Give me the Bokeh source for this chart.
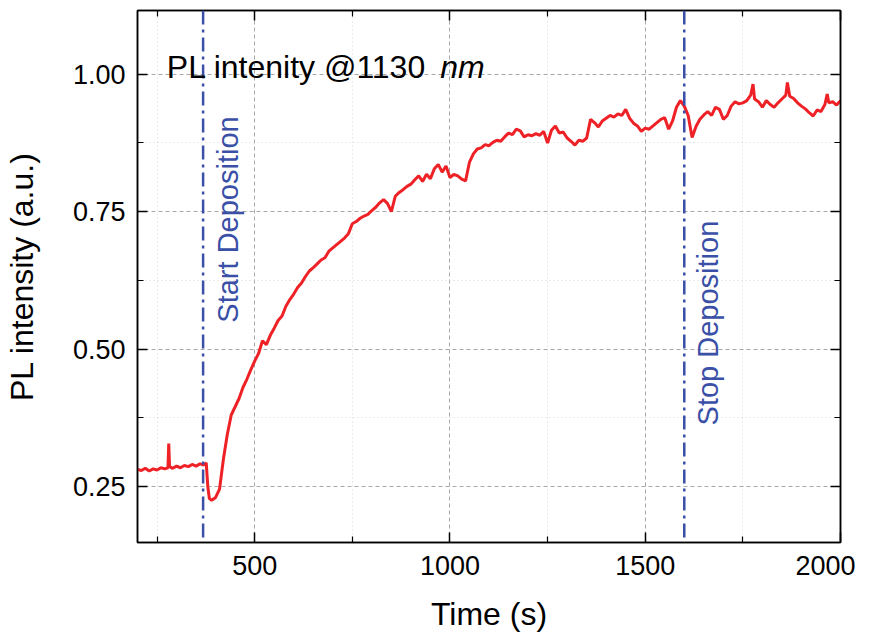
import math
from bokeh.plotting import figure
from bokeh.models import FixedTicker, LinearAxis, Label, Span, Range1d
from bokeh.embed import file_html
from bokeh.resources import INLINE

# ---- data ----
time_s = [200, 210, 220, 230, 240, 250, 260, 270, 278, 280, 282, 290, 300, 310, 320, 330, 340, 350, 360, 370,
          376, 380, 384, 390, 400, 410, 420, 430, 440, 450, 460, 470, 480, 490, 500, 510, 520, 530, 540, 550,
          560, 570, 580, 590, 600, 610, 620, 630, 640, 650, 660, 670, 680, 690, 700, 710, 720, 730, 740, 750,
          760, 770, 780, 790, 800, 810, 820, 830, 840, 850, 860, 870, 880, 890, 900, 910, 920, 930, 940, 950,
          960, 970, 980, 990, 1000, 1010, 1020, 1030, 1040, 1050, 1060, 1070, 1080, 1090, 1100, 1110, 1120,
          1130, 1140, 1150, 1160, 1170, 1180, 1190, 1200, 1210, 1220, 1230, 1240, 1250, 1260, 1270, 1280,
          1290, 1300, 1310, 1320, 1330, 1340, 1350, 1360, 1370, 1380, 1390, 1400, 1410, 1420, 1430, 1440,
          1450, 1460, 1470, 1480, 1490, 1500, 1510, 1520, 1530, 1540, 1550, 1560, 1570, 1580, 1590, 1600,
          1610, 1620, 1630, 1640, 1650, 1660, 1670, 1680, 1690, 1700, 1710, 1720, 1730, 1740, 1750, 1760,
          1770, 1776, 1780, 1790, 1800, 1810, 1820, 1830, 1840, 1850, 1860, 1864, 1870, 1880, 1890, 1900,
          1910, 1920, 1930, 1940, 1950, 1960, 1966, 1970, 1980, 1990, 2000]
pl_intensity = [0.281, 0.279, 0.283, 0.278, 0.282, 0.280, 0.284, 0.282, 0.284, 0.328, 0.286, 0.283, 0.287,
                0.284, 0.288, 0.286, 0.290, 0.287, 0.291, 0.289, 0.293, 0.250, 0.228, 0.225, 0.230, 0.245,
                0.300, 0.345, 0.380, 0.395, 0.410, 0.430, 0.445, 0.462, 0.478, 0.492, 0.515, 0.508, 0.525,
                0.538, 0.552, 0.560, 0.578, 0.590, 0.600, 0.612, 0.620, 0.632, 0.642, 0.648, 0.655, 0.662,
                0.666, 0.678, 0.684, 0.690, 0.696, 0.702, 0.710, 0.728, 0.732, 0.738, 0.742, 0.745, 0.752,
                0.758, 0.766, 0.772, 0.765, 0.750, 0.778, 0.785, 0.790, 0.796, 0.800, 0.808, 0.815, 0.805,
                0.818, 0.810, 0.828, 0.836, 0.822, 0.833, 0.812, 0.818, 0.815, 0.809, 0.806, 0.840, 0.855,
                0.864, 0.866, 0.872, 0.870, 0.876, 0.880, 0.878, 0.886, 0.893, 0.890, 0.900, 0.897, 0.886,
                0.890, 0.888, 0.892, 0.889, 0.896, 0.875, 0.898, 0.906, 0.893, 0.895, 0.884, 0.878, 0.871,
                0.880, 0.878, 0.884, 0.918, 0.912, 0.904, 0.915, 0.920, 0.925, 0.922, 0.928, 0.925, 0.936,
                0.920, 0.911, 0.906, 0.896, 0.902, 0.900, 0.906, 0.912, 0.918, 0.921, 0.900, 0.915, 0.940,
                0.952, 0.942, 0.925, 0.885, 0.905, 0.918, 0.926, 0.932, 0.925, 0.940, 0.936, 0.918, 0.925,
                0.942, 0.950, 0.946, 0.948, 0.952, 0.962, 0.982, 0.955, 0.950, 0.940, 0.952, 0.945, 0.940,
                0.948, 0.955, 0.962, 0.985, 0.960, 0.956, 0.948, 0.942, 0.937, 0.930, 0.924, 0.935, 0.932,
                0.945, 0.964, 0.948, 0.950, 0.944, 0.952]

event_times = [368, 1600]
event_labels = ["Start Deposition", "Stop Deposition"]

x_major = [500, 1000, 1500, 2000]
x_minor = [250, 750, 1250, 1750]
y_major = [0.25, 0.50, 0.75, 1.00]
y_minor = [0.125, 0.375, 0.625, 0.875, 1.125]
y_tick_labels = {0.25: "0.25", 0.5: "0.50", 0.75: "0.75", 1.0: "1.00"}

FONT = "Liberation Sans"
BLUE = "#3a4fa6"
RED = "#ee2126"

p = figure(width=855, height=635, output_backend="svg", toolbar_location=None,
           x_range=Range1d(200, 2000), y_range=Range1d(0.148, 1.116),
           min_border_left=137, min_border_right=15, min_border_top=10, min_border_bottom=93)
p.background_fill_color = "white"
p.border_fill_color = "white"
p.outline_line_color = "black"
p.outline_line_width = 1.5

# grids
for g in (p.xgrid, p.ygrid):
    g.grid_line_color = "#a8a8a8"
    g.grid_line_dash = "4 3"
    g.grid_line_width = 1
    g.minor_grid_line_color = "#d4d4d4"
    g.minor_grid_line_dash = "1 3"
    g.minor_grid_line_width = 1

def style_axis(ax, labels=True):
    ax.axis_line_color = "black"
    ax.axis_line_width = 1.5
    ax.major_tick_in = 10
    ax.major_tick_out = 0
    ax.minor_tick_in = 6
    ax.minor_tick_out = 0
    ax.major_tick_line_color = "black"
    ax.minor_tick_line_color = "black"
    ax.major_tick_line_width = 1.5
    ax.minor_tick_line_width = 1.2
    ax.major_label_text_font = FONT
    ax.major_label_text_color = "black"
    ax.axis_label_text_font = FONT
    ax.axis_label_text_font_style = "normal"
    ax.axis_label_text_color = "black"
    if not labels:
        ax.major_label_text_font_size = "1px"
        ax.major_label_text_color = None
        ax.major_label_standoff = 0

xt = FixedTicker(ticks=x_major, minor_ticks=x_minor)
yt = FixedTicker(ticks=y_major, minor_ticks=y_minor)

p.xaxis.ticker = xt
p.yaxis.ticker = yt
style_axis(p.xaxis[0])
style_axis(p.yaxis[0])
p.xaxis.major_label_text_font_size = "27px"
p.yaxis.major_label_text_font_size = "27px"
p.yaxis.major_label_overrides = y_tick_labels
p.xaxis.major_label_standoff = 13
p.yaxis.major_label_standoff = 12
p.xaxis.axis_label = "Time (s)"
p.yaxis.axis_label = "PL intensity (a.u.)"
p.xaxis.axis_label_text_font_size = "32px"
p.yaxis.axis_label_text_font_size = "32px"
p.xaxis.axis_label_standoff = 18
p.yaxis.axis_label_standoff = 30

top_ax = LinearAxis(ticker=FixedTicker(ticks=x_major, minor_ticks=x_minor))
right_ax = LinearAxis(ticker=FixedTicker(ticks=y_major, minor_ticks=y_minor))
style_axis(top_ax, labels=False)
style_axis(right_ax, labels=False)
p.add_layout(top_ax, "above")
p.add_layout(right_ax, "right")

# event lines
for t in event_times:
    p.add_layout(Span(location=t, dimension="height", line_color=BLUE, line_width=2.5,
                      line_dash="14 5 3 5"))

# data line
p.line(time_s, pl_intensity, line_color=RED, line_width=3)

# event labels
label_pos = [(432, 0.548), (1660, 0.361)]
for (lx, ly), txt in zip(label_pos, event_labels):
    p.add_layout(Label(x=lx, y=ly, text=txt, angle=math.pi / 2, text_align="left",
                       text_baseline="alphabetic", text_font=FONT, text_font_size="29px",
                       text_color=BLUE))

# title annotation inside plot
p.add_layout(Label(x=275, y=1.013, text="PL intenity @1130 ", text_align="left",
                   text_baseline="alphabetic", text_font=FONT, text_font_size="32px",
                   text_color="black"))
p.add_layout(Label(x=975, y=1.013, text="nm", text_align="left",
                   text_baseline="alphabetic", text_font=FONT, text_font_size="32px",
                   text_font_style="italic", text_color="black"))

open("out.html", "w").write(file_html(p, INLINE))
